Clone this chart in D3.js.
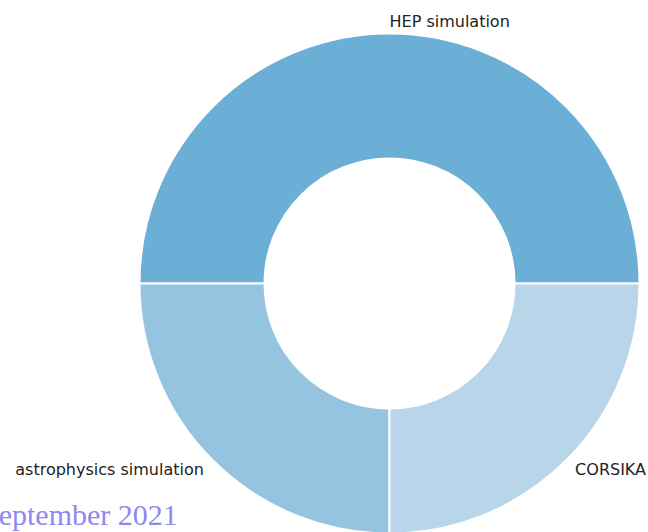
<!DOCTYPE html>
<html><head><meta charset="utf-8">
<script src="https://cdn.jsdelivr.net/npm/d3@7"></script>
<style>body{margin:0;background:#fff;overflow:hidden}</style>
</head><body>
<svg id="c" width="648" height="532"></svg>
<script>
const categories = ["HEP simulation", "astrophysics simulation", "CORSIKA"];
const values = [50, 25, 25];
const colors = ["#6baed6", "#95c4e0", "#b9d5ea"];
const footnote = "September 2021";

const svg = d3.select("#c");
const cx = 389.5, cy = 283.5, R = 250, r = 125;
const g = svg.append("g").attr("transform", `translate(${cx},${cy})`);

// matplotlib-style: start at 3 o'clock, counterclockwise
const pie = d3.pie().sort(null).value(d => d)
  .startAngle(Math.PI / 2).endAngle(Math.PI / 2 - 2 * Math.PI);
const arcs = pie(values);
const arc = d3.arc().innerRadius(r).outerRadius(R);

g.selectAll("path").data(arcs).join("path")
  .attr("d", arc)
  .attr("fill", (d, i) => colors[i])
  .attr("stroke", "#fff").attr("stroke-width", 2).attr("stroke-linejoin", "miter");

const ld = 1.05 * R;
g.selectAll("text").data(arcs).join("text")
  .each(function(d, i) {
    const a = (d.startAngle + d.endAngle) / 2; // d3 angle: 0 at top, clockwise
    const x = ld * Math.sin(a), y = -ld * Math.cos(a);
    d3.select(this).attr("x", x).attr("y", y)
      .attr("text-anchor", x >= -1e-6 ? "start" : "end")
      .attr("dominant-baseline", "central");
  })
  .attr("font-family", "DejaVu Sans")
  .attr("font-size", 16)
  .attr("fill", "#222")
  .text((d, i) => categories[i]);

svg.append("text").attr("x", -18).attr("y", 525)
  .attr("font-family", "Liberation Serif, Times New Roman, serif")
  .attr("font-size", 30)
  .attr("fill", "#8f88ef")
  .text(footnote);
</script>
</body></html>
